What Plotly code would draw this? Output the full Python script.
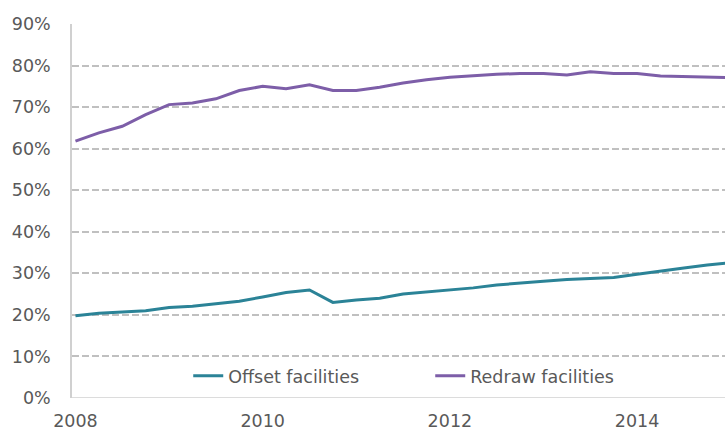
import plotly.graph_objects as go

quarters = [2008.0 + 0.25 * k for k in range(29)]
offset = [19.8, 20.4, 20.7, 21.0, 21.8, 22.1, 22.7, 23.3, 24.3, 25.4,
          26.0, 23.0, 23.6, 24.0, 25.0, 25.5, 25.9, 26.5, 27.2, 27.7,
          28.1, 28.5, 28.8, 29.0, 29.8, 30.6, 31.3, 32.0, 32.6]
redraw = [61.8, 63.8, 65.4, 68.2, 70.6, 71.0, 72.0, 74.0, 75.0, 74.4,
          75.4, 74.0, 74.0, 74.8, 75.8, 76.6, 77.2, 77.6, 77.9, 78.1,
          78.1, 77.7, 78.5, 78.1, 78.1, 77.5, 77.4, 77.2, 77.1]
y_ticks = [0, 10, 20, 30, 40, 50, 60, 70, 80, 90]
x_ticks = [2008, 2010, 2012, 2014]

fig = go.Figure()
fig.add_trace(go.Scatter(x=quarters, y=offset, mode="lines", name="Offset facilities",
                         line=dict(color="#2b8397", width=3)))
fig.add_trace(go.Scatter(x=quarters, y=redraw, mode="lines", name="Redraw facilities",
                         line=dict(color="#7d5ea8", width=3)))

font = dict(family="DejaVu Sans, Liberation Sans, sans-serif", size=17.5, color="#595959")
fig.update_layout(
    width=725, height=432,
    margin=dict(l=72, r=0, t=24, b=34),
    paper_bgcolor="white", plot_bgcolor="white",
    font=font,
    showlegend=True,
    legend=dict(orientation="h", x=0.178, y=0.059, xanchor="left", yanchor="middle",
                entrywidth=197, bgcolor="rgba(0,0,0,0)", font=font),
    xaxis=dict(range=[2007.963, 2014.939], tickvals=x_ticks, ticktext=[str(t) for t in x_ticks],
               showgrid=False, zeroline=False, showline=False, ticks="", fixedrange=True,
               automargin=False, ticklabelstandoff=10),
    yaxis=dict(range=[0, 90], tickvals=y_ticks, ticktext=[f"{t}%" for t in y_ticks],
               showgrid=True, gridcolor="#c0c0c0", griddash="7px,3px", gridwidth=2,
               zeroline=False, showline=True, linecolor="#d0d0d0", linewidth=1.5,
               ticks="", ticklen=0, fixedrange=True, automargin=False,
               ticklabelstandoff=16),
)
fig.add_shape(type="line", xref="paper", yref="y", x0=0, x1=1, y0=0, y1=0,
              line=dict(color="#d0d0d0", width=1.5))
fig.write_html("out.html", config={"displayModeBar": False},
               post_script="document.body.style.margin='0';document.body.style.overflow='hidden';")
